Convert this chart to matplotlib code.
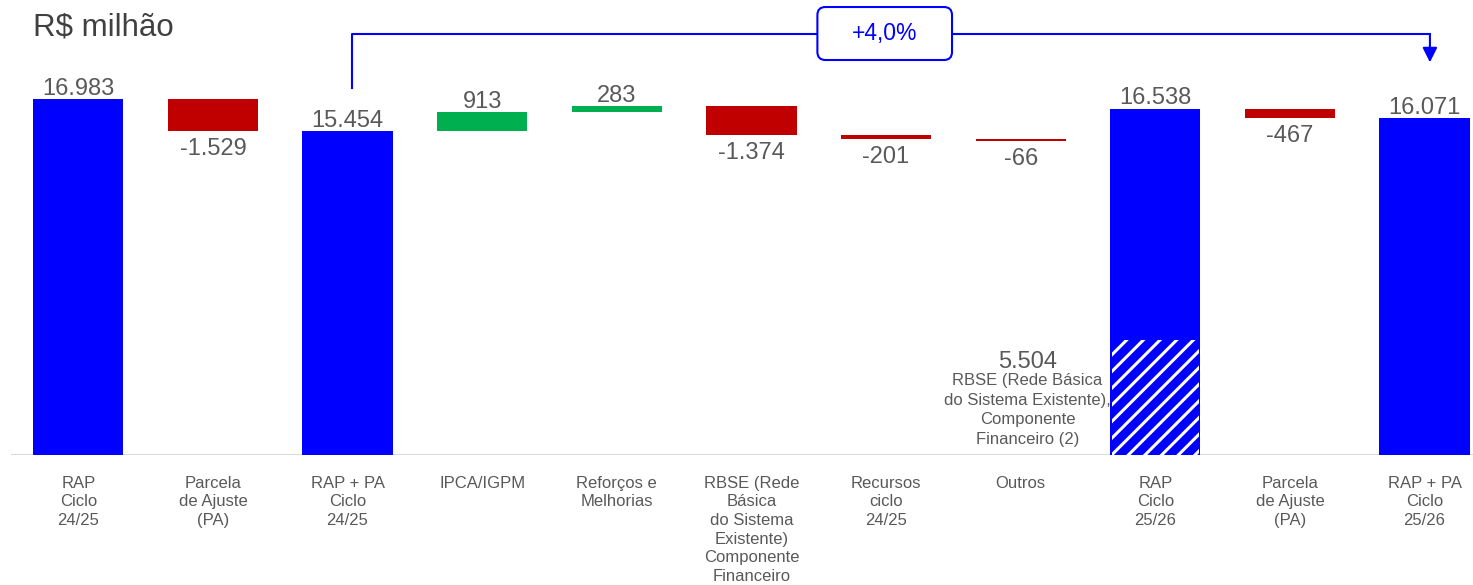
import numpy as np
import matplotlib
matplotlib.use("Agg")
import matplotlib.pyplot as plt
from matplotlib.patches import FancyBboxPatch

plt.rcParams['font.family'] = ['Liberation Sans', 'DejaVu Sans']
plt.rcParams['hatch.linewidth'] = 2.2

# dados do gráfico
categorias = ["RAP\nCiclo\n24/25", "Parcela\nde Ajuste\n(PA)", "RAP + PA\nCiclo\n24/25",
              "IPCA/IGPM", "Reforços e\nMelhorias",
              "RBSE (Rede\nBásica\ndo Sistema\nExistente)\nComponente\nFinanceiro",
              "Recursos\nciclo\n24/25", "Outros", "RAP\nCiclo\n25/26",
              "Parcela\nde Ajuste\n(PA)", "RAP + PA\nCiclo\n25/26"]
valores = [16983, -1529, 15454, 913, 283, -1374, -201, -66, 16538, -467, 16071]
tipos = ["total", "delta", "total", "delta", "delta", "delta", "delta", "delta",
         "total", "delta", "total"]
rotulos = ["16.983", "-1.529", "15.454", "913", "283", "-1.374", "-201", "-66",
           "16.538", "-467", "16.071"]
rbse_valor = 5504
rbse_rotulo = "5.504"
rbse_texto = "RBSE (Rede Básica\ndo Sistema Existente),\nComponente\nFinanceiro (2)"
variacao = "+4,0%"

AZUL = "#0000FF"
VERMELHO = "#C00000"
VERDE = "#00B050"
CINZA = "#595959"

fig = plt.figure(figsize=(14.73, 5.85), dpi=100)
ax = fig.add_axes([11 / 1473, 130 / 585, 1 - 11 / 1473, 455 / 585])
ax.set_xlim(-0.5, 10.36)
ax.set_ylim(0, 455 * 47.75)

x = np.arange(len(valores))
largura = 0.67

# calcula base e altura de cada barra (cascata)
nivel = 0
bases, alturas, cores = [], [], []
for v, t in zip(valores, tipos):
    if t == "total":
        bases.append(0)
        alturas.append(v)
        cores.append(AZUL)
        nivel = v
    else:
        bases.append(nivel + v if v < 0 else nivel)
        alturas.append(abs(v))
        cores.append(VERDE if v > 0 else VERMELHO)
        nivel += v

ax.bar(x, alturas, largura, bottom=bases, color=cores, zorder=2)
ax.bar(8, rbse_valor, largura * 0.96, color=AZUL, edgecolor="white",
       hatch="//", linewidth=0, zorder=3)

for i, (v, t) in enumerate(zip(valores, tipos)):
    topo = bases[i] + alturas[i]
    if v >= 0:
        ax.annotate(rotulos[i], (x[i], topo), xytext=(0, -0.5), textcoords="offset points",
                    ha="center", va="bottom", fontsize=17, color=CINZA, zorder=4)
    else:
        ax.annotate(rotulos[i], (x[i], bases[i]), xytext=(0, -5), textcoords="offset points",
                    ha="center", va="top", fontsize=17, color=CINZA, zorder=4)

ax.text(8 - 0.95, rbse_valor - 550, rbse_rotulo, ha="center", va="top",
        fontsize=17, color=CINZA)
ax.text(8 - 0.95, rbse_valor - 1600, rbse_texto, ha="center", va="top",
        fontsize=12, color=CINZA, linespacing=1.38)

# linha base
ax.axhline(0, color="#D9D9D9", lw=1.5, zorder=1)

ax.set_xticks(x)
ax.set_xticklabels(categorias, fontsize=12, color=CINZA, linespacing=1.3)
ax.tick_params(axis="x", length=0, pad=15)
ax.set_yticks([])
for s in ax.spines.values():
    s.set_visible(False)

# seta de variação
y_seta = 20080
ax.plot([2.03, 2.03, 10.04], [17520, y_seta, y_seta], color=AZUL, lw=1.5, zorder=4)
ax.annotate("", xy=(10.04, 18750), xytext=(10.04, y_seta + 20),
            arrowprops=dict(arrowstyle="-|>", color=AZUL, lw=1.5, mutation_scale=22,
                            shrinkA=0, shrinkB=0), zorder=4)
aspecto = (1462 / 10.86) / (455 / ax.get_ylim()[1])
caixa = FancyBboxPatch((5.49, 18861), 1.0, 2530,
                       boxstyle="round,pad=0,rounding_size=0.06",
                       mutation_aspect=aspecto, fc="white", ec=AZUL, lw=1.5,
                       zorder=5, clip_on=False)
ax.add_patch(caixa)
ax.text(5.99, 18861 + 1265, variacao, ha="center", va="center", fontsize=16.5,
        color=AZUL, zorder=6)

fig.text(33 / 1473, 1 - 28 / 585, "R$ milhão", fontsize=22.5, color="#404040",
         ha="left", va="center")

fig.savefig("out.png", dpi=100)
